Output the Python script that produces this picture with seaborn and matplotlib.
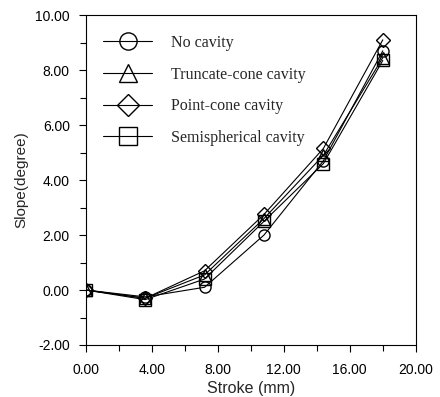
import pandas as pd
import matplotlib
matplotlib.use("Agg")
import matplotlib.pyplot as plt
from matplotlib.ticker import MultipleLocator, FormatStrFormatter
import seaborn as sns

# stroke positions (mm)
stroke = [0.0, 3.6, 7.2, 10.8, 14.4, 18.0]

# slope values (degree)
no_cavity = [0.0, -0.25, 0.1, 2.0, 4.7, 8.7]
truncate_cone = [0.0, -0.3, 0.55, 2.6, 4.9, 8.45]
point_cone = [0.0, -0.3, 0.7, 2.75, 5.15, 9.1]
semispherical = [0.0, -0.35, 0.4, 2.5, 4.6, 8.35]

names = ["No cavity", "Truncate-cone cavity", "Point-cone cavity", "Semispherical cavity"]
markers = ["o", "^", "D", "s"]
series = [no_cavity, truncate_cone, point_cone, semispherical]

sns.set_style("ticks")
plt.rcParams["font.family"] = ["Liberation Sans", "DejaVu Sans"]

fig = plt.figure(figsize=(4.4, 3.97), dpi=100)
ax = fig.add_axes([0.195, 0.131, 0.75, 0.831])

for name, mk, vals in zip(names, markers, series):
    df = pd.DataFrame({"Stroke": stroke, "Slope": vals})
    ms = 7 if mk == "D" else 8
    sns.lineplot(data=df, x="Stroke", y="Slope", ax=ax, color="black", lw=0.8,
                 marker=mk, markersize=ms, markerfacecolor="none",
                 markeredgecolor="black", markeredgewidth=1.0, label=name)

ax.set_xlim(0, 20)
ax.set_ylim(-2, 10)
ax.xaxis.set_major_locator(MultipleLocator(4))
ax.xaxis.set_minor_locator(MultipleLocator(2))
ax.yaxis.set_major_locator(MultipleLocator(2))
ax.yaxis.set_minor_locator(MultipleLocator(1))
ax.xaxis.set_major_formatter(FormatStrFormatter("%.2f"))
ax.yaxis.set_major_formatter(FormatStrFormatter("%.2f"))
ax.tick_params(which="both", direction="out", width=0.8, labelsize=10, colors="black")
ax.tick_params(which="major", length=5)
ax.tick_params(which="minor", length=4)
ax.tick_params(axis="x", which="major", pad=8)
ax.tick_params(axis="y", which="major", pad=6.5)
for s in ax.spines.values():
    s.set_linewidth(0.8)
    s.set_color("black")

ax.set_xlabel("Stroke (mm)", fontsize=11.5, labelpad=2.5)
ax.set_ylabel("Slope(degree)", fontsize=11, labelpad=5)

leg = ax.legend(loc="upper left", bbox_to_anchor=(0.032, 0.959), borderaxespad=0,
                frameon=False, markerscale=1.55, handlelength=3.1,
                handletextpad=1.2, labelspacing=0.98,
                prop={"family": "Liberation Serif", "size": 11.5})

fig.savefig("out.png", dpi=100)
